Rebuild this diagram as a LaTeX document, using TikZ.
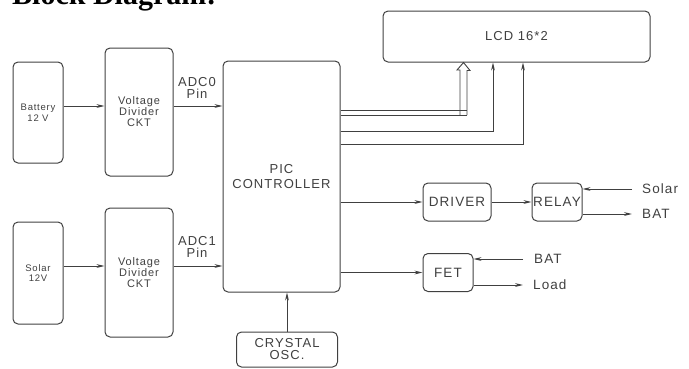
\documentclass[tikz,border=0pt]{standalone}
\usepackage{fontspec}
\setmainfont{Liberation Sans}
\newfontfamily\lbl[LetterSpace=8]{Liberation Sans}
\newfontfamily\ttl{Liberation Serif}
\usetikzlibrary{arrows.meta}
\definecolor{ink}{HTML}{404040}
\newcommand{\fsz}[2]{\lbl\fontsize{#1}{#2}\selectfont}
\tikzset{
  blk/.style={draw=ink,rounded corners=5pt,line width=1pt,align=center,inner sep=0pt,text=ink},
  txt/.style={align=center,inner sep=0pt,text=ink},
  arr/.style={draw=ink,line width=.9pt,-{Stealth[length=8pt,width=3.8pt]}},
  wire/.style={draw=ink,line width=.9pt}
}
\begin{document}
\begin{tikzpicture}[x=1pt,y=-1pt]
\useasboundingbox (0,0) rectangle (689,368);\clip (0,0) rectangle (689,368);
\node[anchor=base west,inner sep=0,font=\ttl\bfseries\fontsize{30}{30}\selectfont] (title) at (12,4.5) {Block Diagram:};
% input side
\node[blk,minimum width=50pt,minimum height=101pt,font=\fsz{9.5}{10.5}] (bat) at (38,112.5) {Battery\\12 V};
\node[blk,minimum width=50pt,minimum height=102pt,font=\fsz{9.5}{10.5}] (sol) at (38,273) {Solar\\12V};
\node[blk,minimum width=68pt,minimum height=128pt,font=\fsz{11}{11}] (vd1) at (139,112) {Voltage\\Divider\\CKT};
\node[blk,minimum width=68pt,minimum height=129pt,font=\fsz{11}{11}] (vd2) at (139,272.5) {Voltage\\Divider\\CKT};
\node[txt,font=\fsz{13}{11.5}] (adc0) at (197,88) {ADC0\\Pin};\node[txt,font=\fsz{13}{11.5}] (adc1) at (197,247) {ADC1\\Pin};
\node[blk,minimum width=117pt,minimum height=231pt,font=\fsz{13}{15}] (pic) at (281.5,176.5) {PIC\\CONTROLLER};
\node[blk,minimum width=101pt,minimum height=35pt,font=\fsz{13}{12}] (xtal) at (287,349.5) {CRYSTAL\\OSC.};
% output side
\node[blk,minimum width=267pt,minimum height=51pt,font=\fsz{13}{15}] (lcd) at (516.5,36.5) {LCD 16*2};
\node[blk,minimum width=68pt,minimum height=38pt,font=\fsz{13.5}{15}] (drv) at (457,202) {DRIVER};
\node[blk,minimum width=50pt,minimum height=38pt,font=\fsz{13.5}{15}] (rly) at (557,202) {RELAY};
\node[blk,minimum width=50pt,minimum height=38pt,font=\fsz{13.5}{15}] (fet) at (448,272.5) {FET};
\node[txt,anchor=west,inner xsep=10pt,font=\fsz{13.5}{15}] (solin) at (632,189) {Solar};
\node[txt,anchor=west,inner xsep=10pt,font=\fsz{13.5}{15}] (batout) at (632,214) {BAT};
\node[txt,anchor=west,inner xsep=11pt,font=\fsz{13.5}{15}] (batin) at (523,259) {BAT};
\node[txt,anchor=west,inner xsep=10pt,font=\fsz{13.5}{15}] (load) at (523,285) {Load};
\coordinate (y0) at (0,106);\coordinate (y1) at (0,266);
\draw[arr] (bat.east|-y0) -- (vd1.west|-y0);\draw[arr] (vd1.east|-y0) -- (pic.west|-y0);
\draw[arr] (sol.east|-y1) -- (vd2.west|-y1);\draw[arr] (vd2.east|-y1) -- (pic.west|-y1);
\draw[arr] (xtal) -- (xtal|-pic.south);
\draw[arr] (pic.east|-drv) -- (drv);\draw[arr] (drv) -- (rly);\draw[arr] (pic.east|-fet) -- (fet);
\draw[arr] (solin.west) -- (rly.east|-solin.west);\draw[arr] (rly.east|-batout.west) -- (batout.west);
\draw[arr] (batin.west) -- (fet.east|-batin.west);\draw[arr] (fet.east|-load.west) -- (load.west);
% lcd bus and data lines
\coordinate (b1) at (467,110);\coordinate (b2) at (460,115);\coordinate (bus) at (463.5,112.5);\coordinate (hb) at (0,70);
\coordinate (l1) at (493,131);\coordinate (l2) at (523,144);
\draw[wire] (pic.east|-b1) -- (b1);\draw[wire] (pic.east|-b2) -- (b1|-b2);
\draw[wire] (b2) -- (b2|-hb) -- ++(-3,0) -- (lcd.south-|bus) -- ++(6.5,8) -- ++(-3,0) -- (b1|-b2);
\draw[arr] (pic.east|-l1) -| (lcd.south-|l1);\draw[arr] (pic.east|-l2) -| (lcd.south-|l2);
\end{tikzpicture}
\end{document}
